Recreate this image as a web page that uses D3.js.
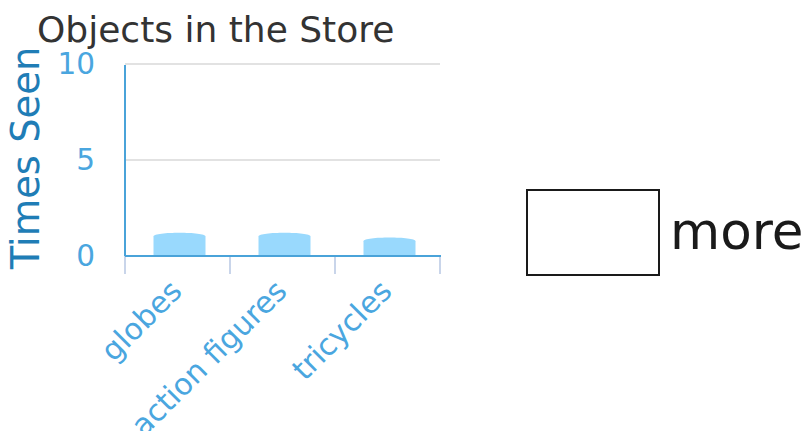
<!DOCTYPE html>
<html lang="en">
  <head>
    <meta charset="UTF-8" />
    <title>Objects in the Store</title>
    <script src="https://d3js.org/d3.v7.min.js"></script>
    <style>
      body { margin: 0; background: #fff; }
      text { font-family: "DejaVu Sans", sans-serif; }
    </style>
  </head>
  <body>
    <svg id="chart" width="804" height="431"></svg>
    <script>
      const categories = ["globes", "action figures", "tricycles"];
      const timesSeen = [1.25, 1.25, 1.0];
      const yTicks = [0, 5, 10];
      const legendLabel = "more";

      const svg = d3.select("#chart");
      const plot = { left: 125, right: 440, top: 64, bottom: 256 };

      const x = d3.scaleBand().domain(categories).range([plot.left, plot.right]);
      const y = d3.scaleLinear().domain([0, 10]).range([plot.bottom, plot.top]);

      // title
      svg.append("text")
        .attr("x", 37).attr("y", 42)
        .attr("font-size", 36)
        .attr("fill", "#333")
        .text("Objects in the Store");

      // y label
      svg.append("text")
        .attr("transform", "translate(39,158) rotate(-90)")
        .attr("text-anchor", "middle")
        .attr("font-size", 38.5)
        .attr("fill", "#1f7db6")
        .text("Times Seen");

      // grid
      svg.append("g")
        .selectAll("line")
        .data(yTicks.filter((d) => d > 0))
        .join("line")
        .attr("x1", plot.left).attr("x2", plot.right)
        .attr("y1", (d) => y(d)).attr("y2", (d) => y(d))
        .attr("stroke", "#e2e2e2").attr("stroke-width", 2);

      // y tick labels
      const yAxis = svg.append("g")
        .attr("transform", "translate(95,0)")
        .call(d3.axisLeft(y).tickValues(yTicks).tickSize(0).tickPadding(0));
      yAxis.select(".domain").remove();
      yAxis.selectAll("text")
        .attr("font-size", 29.5)
        .attr("font-family", "DejaVu Sans")
        .attr("fill", "#4aa6df");

      // bars with rounded tops
      const bw = 52;
      const cap = 4.5;
      svg.append("g")
        .selectAll("path")
        .data(categories)
        .join("path")
        .attr("d", (c, i) => {
          const x0 = x(c) + x.bandwidth() / 2 - bw / 2 + 2;
          const x1 = x0 + bw;
          const yt = y(timesSeen[i]);
          const yb = y(0);
          return `M${x0},${yb} L${x0},${yt + cap} C${x0},${yt - 0.5} ${x1},${yt - 0.5} ${x1},${yt + cap} L${x1},${yb} Z`;
        })
        .attr("fill", "#99d9fd");

      // x tick marks at band edges
      const edges = categories.map((c) => x(c)).concat([plot.right]);
      svg.append("g")
        .selectAll("line")
        .data(edges)
        .join("line")
        .attr("x1", (d) => d).attr("x2", (d) => d)
        .attr("y1", plot.bottom).attr("y2", plot.bottom + 18)
        .attr("stroke", "#c9d5ea").attr("stroke-width", 2);

      // axes lines
      svg.append("line")
        .attr("x1", plot.left).attr("x2", plot.left)
        .attr("y1", plot.top + 1).attr("y2", plot.bottom)
        .attr("stroke", "#4aa3d9").attr("stroke-width", 2);
      svg.append("line")
        .attr("x1", plot.left).attr("x2", plot.right + 1)
        .attr("y1", plot.bottom).attr("y2", plot.bottom)
        .attr("stroke", "#4aa3d9").attr("stroke-width", 2);

      // x labels
      svg.append("g")
        .selectAll("text")
        .data(categories)
        .join("text")
        .attr("transform", (c) => `translate(${x(c) + x.bandwidth() / 2 + 6},${plot.bottom + 37}) rotate(-45)`)
        .attr("text-anchor", "end")
        .attr("font-size", 30)
        .attr("fill", "#4aa6df")
        .text((c) => c);

      // legend
      svg.append("rect")
        .attr("x", 527).attr("y", 190)
        .attr("width", 132).attr("height", 85)
        .attr("fill", "#fff").attr("stroke", "#1a1a1a").attr("stroke-width", 2);
      svg.append("text")
        .attr("x", 670).attr("y", 249)
        .attr("font-size", 51.5)
        .attr("fill", "#1a1a1a")
        .text(legendLabel);
    </script>
  </body>
</html>
